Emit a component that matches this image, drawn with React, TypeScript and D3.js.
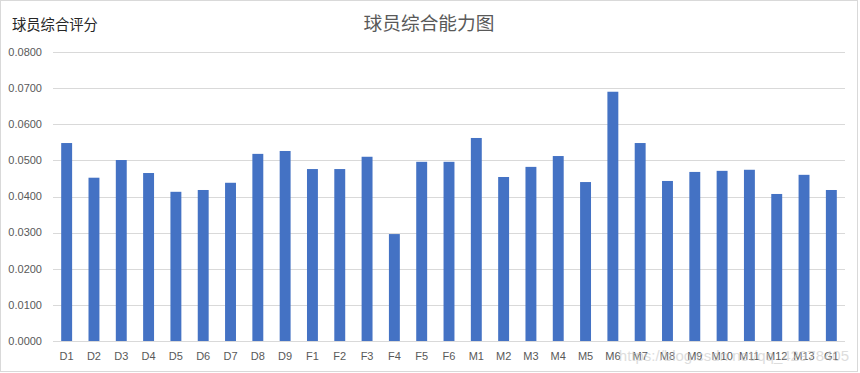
import { useEffect, useRef } from "react";
import * as d3 from "d3";

const players = [
  "D1", "D2", "D3", "D4", "D5", "D6", "D7", "D8", "D9",
  "F1", "F2", "F3", "F4", "F5", "F6",
  "M1", "M2", "M3", "M4", "M5", "M6", "M7", "M8", "M9", "M10", "M11", "M12", "M13",
  "G1",
];
const scores = [
  0.0548, 0.0452, 0.0501, 0.0465, 0.0413, 0.0418, 0.0438, 0.0518, 0.0526,
  0.0476, 0.0476, 0.051, 0.0296, 0.0496, 0.0496,
  0.0562, 0.0454, 0.0482, 0.0512, 0.044, 0.069, 0.0548, 0.0443, 0.0468, 0.0471, 0.0474, 0.0407, 0.046,
  0.0418,
];
const yTicks = [0, 0.01, 0.02, 0.03, 0.04, 0.05, 0.06, 0.07, 0.08];

const App = () => {
  const svgRef = useRef<SVGSVGElement | null>(null);

  useEffect(() => {
    document.body.style.margin = "0";
    const svg = d3.select(svgRef.current);
    svg.selectAll("*").remove();

    const width = 860;
    const height = 373;
    const margin = { top: 52, right: 15, bottom: 32, left: 53 };
    const latin = "'Liberation Sans', Arial, sans-serif";
    const cjk = "'Noto Sans CJK SC', sans-serif";

    svg
      .append("rect")
      .attr("x", 0.5)
      .attr("y", 0.5)
      .attr("width", 857)
      .attr("height", 371)
      .attr("fill", "#fff")
      .attr("stroke", "#d9d9d9");

    const x = d3
      .scaleBand()
      .domain(players)
      .range([margin.left, width - margin.right])
      .paddingInner(0.6)
      .paddingOuter(0.3);

    const y = d3
      .scaleLinear()
      .domain([0, 0.08])
      .range([height - margin.bottom, margin.top]);

    // grid
    svg
      .append("g")
      .selectAll("line")
      .data(yTicks)
      .enter()
      .append("line")
      .attr("x1", margin.left)
      .attr("x2", width - margin.right)
      .attr("y1", (d) => Math.round(y(d)) + 0.5)
      .attr("y2", (d) => Math.round(y(d)) + 0.5)
      .attr("stroke", "#d9d9d9");

    svg
      .append("g")
      .selectAll("text")
      .data(yTicks)
      .enter()
      .append("text")
      .attr("x", 42)
      .attr("y", (d) => y(d))
      .attr("dy", "0.35em")
      .attr("text-anchor", "end")
      .attr("font-family", latin)
      .attr("font-size", 11)
      .attr("fill", "#595959")
      .text((d) => d.toFixed(4));

    svg
      .append("g")
      .selectAll("rect")
      .data(players)
      .enter()
      .append("rect")
      .attr("x", (d) => x(d) as number)
      .attr("width", x.bandwidth())
      .attr("y", (_d, i) => y(scores[i]))
      .attr("height", (_d, i) => y(0) - y(scores[i]))
      .attr("fill", "#4472c4");

    svg
      .append("g")
      .selectAll("text")
      .data(players)
      .enter()
      .append("text")
      .attr("x", (d) => (x(d) as number) + x.bandwidth() / 2)
      .attr("y", 360)
      .attr("text-anchor", "middle")
      .attr("font-family", latin)
      .attr("font-size", 11)
      .attr("fill", "#595959")
      .text((d) => d);

    svg
      .append("text")
      .attr("x", 429)
      .attr("y", 30)
      .attr("text-anchor", "middle")
      .attr("font-family", cjk)
      .attr("font-size", 18.7)
      .attr("fill", "#595959")
      .text("球员综合能力图");

    svg
      .append("text")
      .attr("x", 12)
      .attr("y", 30)
      .attr("font-family", cjk)
      .attr("font-size", 14.3)
      .attr("fill", "#262626")
      .text("球员综合评分");

    svg
      .append("text")
      .attr("x", 849)
      .attr("y", 361)
      .attr("text-anchor", "end")
      .attr("font-family", latin)
      .attr("font-size", 15)
      .attr("fill", "#c8c8c8")
      .attr("opacity", 0.6)
      .text("https://blog.csdn.net/qq_42978405");
  }, []);

  return <svg ref={svgRef} width={860} height={373} style={{ display: "block" }}></svg>;
};

export default App;
